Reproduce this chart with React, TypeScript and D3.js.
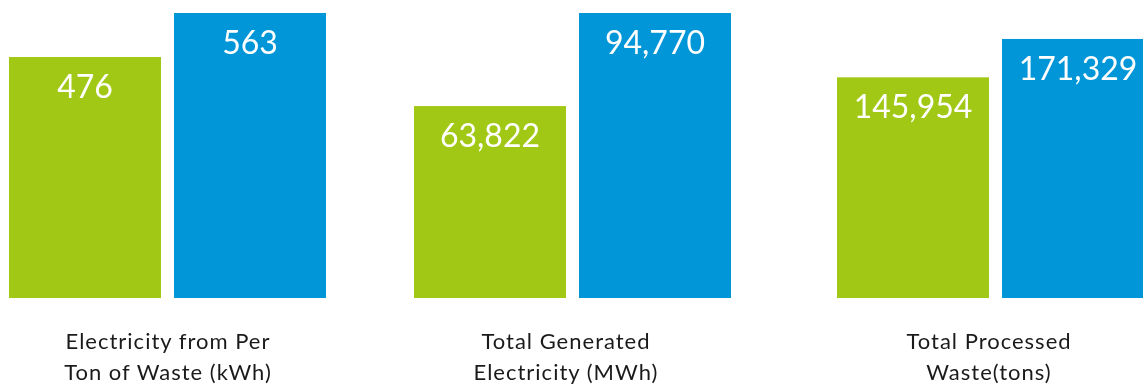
import React from "react";
import * as d3 from "d3";

const categories = ["Electricity from Per|Ton of Waste (kWh)", "Total Generated|Electricity (MWh)", "Total Processed|Waste(tons)"];
const seriesNames = ["previous", "current"];
const previousValues = [476, 63822, 145954];
const currentValues = [563, 94770, 171329];
const groupMax = [563, 94770, 188500];

const W = 1143;
const H = 385;
const colors: Record<string, string> = { previous: "#A0C814", current: "#0096D8" };
const fmt = d3.format(",");

export default function App() {
  const groupX = d3.scaleOrdinal<string, number>().domain(categories).range([9, 414, 837]);
  const labelX = d3.scaleOrdinal<string, number>().domain(categories).range([168, 566, 989]);
  const inner = d3.scaleBand<string>().domain(seriesNames).range([0, 317]).paddingInner(13 / 165).paddingOuter(0);
  const baseY = 298;
  const topY = 13;
  return (
    <svg width={W} height={H} style={{ position: "fixed", left: 0, top: 0, fontFamily: "Lato, 'Open Sans', sans-serif" }}>
      {categories.map((cat, gi) => {
        const y = d3.scaleLinear().domain([0, groupMax[gi]]).range([baseY, topY]);
        const vals = [previousValues[gi], currentValues[gi]];
        const gx = groupX(cat);
        const lx = labelX(cat);
        const lines = cat.split("|");
        return (
          <g key={cat}>
            {seriesNames.map((s, si) => {
              const x = gx + (inner(s) ?? 0);
              const bw = inner.bandwidth();
              const v = vals[si];
              return (
                <g key={s}>
                  <rect x={x} y={y(v)} width={bw} height={baseY - y(v)} fill={colors[s]} />
                  <text x={x + bw / 2} y={y(v) + 41} textAnchor="middle" fill="#fff" fontSize={32}>
                    {fmt(v)}
                  </text>
                </g>
              );
            })}
            <text textAnchor="middle" fontSize={22} letterSpacing={1} fill="#1a1a1a">
              {lines.map((l, li) => (
                <tspan key={li} x={lx} y={349 + li * 31}>
                  {l}
                </tspan>
              ))}
            </text>
          </g>
        );
      })}
    </svg>
  );
}
